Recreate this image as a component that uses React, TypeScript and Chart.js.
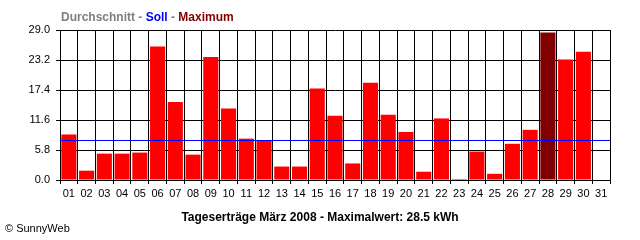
import React, { useEffect, useRef } from "react";
import { Chart, registerables } from "chart.js";

Chart.register(...registerables);

const days = [
  "01", "02", "03", "04", "05", "06", "07", "08", "09", "10",
  "11", "12", "13", "14", "15", "16", "17", "18", "19", "20",
  "21", "22", "23", "24", "25", "26", "27", "28", "29", "30", "31",
];
const yields: (number | null)[] = [
  8.8, 1.8, 5.1, 5.1, 5.3, 25.8, 15.1, 4.9, 23.8, 13.8,
  8.0, 7.6, 2.6, 2.6, 17.7, 12.4, 3.2, 18.8, 12.6, 9.3,
  1.6, 11.9, 0.2, 5.5, 1.2, 7.0, 9.7, 28.5, 23.3, 24.8, null,
];
const sollValue = 7.7;
const yTicks = [0, 5.8, 11.6, 17.4, 23.2, 29.0];
const titleText = "Tageserträge März 2008 - Maximalwert: 28.5 kWh";

const FONT = "'Liberation Sans', Arial, sans-serif";

const sollLine = {
  id: "sollLine",
  afterDatasetsDraw(chart: any) {
    const { ctx, chartArea, scales } = chart;
    const y = Math.round(scales.y.getPixelForValue(sollValue)) + 0.5;
    ctx.save();
    ctx.strokeStyle = "#0000ff";
    ctx.lineWidth = 1;
    ctx.beginPath();
    ctx.moveTo(chartArea.left, y);
    ctx.lineTo(chartArea.right, y);
    ctx.stroke();
    ctx.restore();
  },
};

export default function App() {
  const canvasRef = useRef<HTMLCanvasElement | null>(null);

  useEffect(() => {
    const maxVal = Math.max(...(yields.filter((v) => v !== null) as number[]));
    const colors = yields.map((v) => (v === maxVal ? "#800000" : "#ff0000"));
    const chart = new Chart(canvasRef.current as HTMLCanvasElement, {
      type: "bar",
      data: {
        labels: days,
        datasets: [
          {
            data: yields as any,
            backgroundColor: colors,
            borderWidth: 0,
            barPercentage: 0.85,
            categoryPercentage: 1,
          },
        ],
      },
      options: {
        responsive: false,
        animation: false,
        layout: { padding: { left: 0, right: 30, top: 30, bottom: 30 } },
        plugins: {
          legend: { display: false },
          tooltip: { enabled: false },
          title: { display: false },
        },
        scales: {
          x: {
            grid: { color: "#000", lineWidth: 1, tickLength: 4, offset: true, drawTicks: true },
            border: { color: "#000" },
            ticks: {
              color: "#000",
              font: { family: FONT, size: 11 },
              padding: 3,
              maxRotation: 0,
              autoSkip: false,
            },
            afterFit: (s: any) => {
              s.height = 30;
            },
          },
          y: {
            min: 0,
            max: 29,
            afterBuildTicks: (s: any) => {
              s.ticks = yTicks.map((v) => ({ value: v }));
            },
            ticks: {
              color: "#000",
              font: { family: FONT, size: 11 },
              padding: 6,
              callback: (v: any) => Number(v).toFixed(1),
            },
            grid: { color: "#000", lineWidth: 1, tickLength: 4 },
            border: { color: "#000" },
            afterFit: (s: any) => {
              s.width = 60;
            },
          },
        },
      },
      plugins: [sollLine],
    });
    return () => chart.destroy();
  }, []);

  return (
    <div style={{ position: "fixed", left: 0, top: 0, width: 640, height: 240, background: "#fff" }}>
      <canvas ref={canvasRef} width={640} height={240} style={{ display: "block" }} />
      <div
        style={{
          position: "absolute",
          left: 61,
          top: 9,
          font: `bold 12px ${FONT}`,
          lineHeight: "16px",
          whiteSpace: "nowrap",
          color: "#808080",
        }}
      >
        <span>Durchschnitt - </span>
        <span style={{ color: "#0000ff" }}>Soll</span>
        <span> - </span>
        <span style={{ color: "#800000" }}>Maximum</span>
      </div>
      <div
        style={{
          position: "absolute",
          left: 0,
          width: 640,
          top: 209,
          textAlign: "center",
          font: `bold 12px ${FONT}`,
          lineHeight: "16px",
          whiteSpace: "nowrap",
          color: "#000",
        }}
      >
        {titleText}
      </div>
      <div
        style={{
          position: "absolute",
          left: 5,
          top: 221,
          font: `11px ${FONT}`,
          lineHeight: "14px",
          whiteSpace: "nowrap",
          color: "#000",
        }}
      >
        © SunnyWeb
      </div>
    </div>
  );
}
